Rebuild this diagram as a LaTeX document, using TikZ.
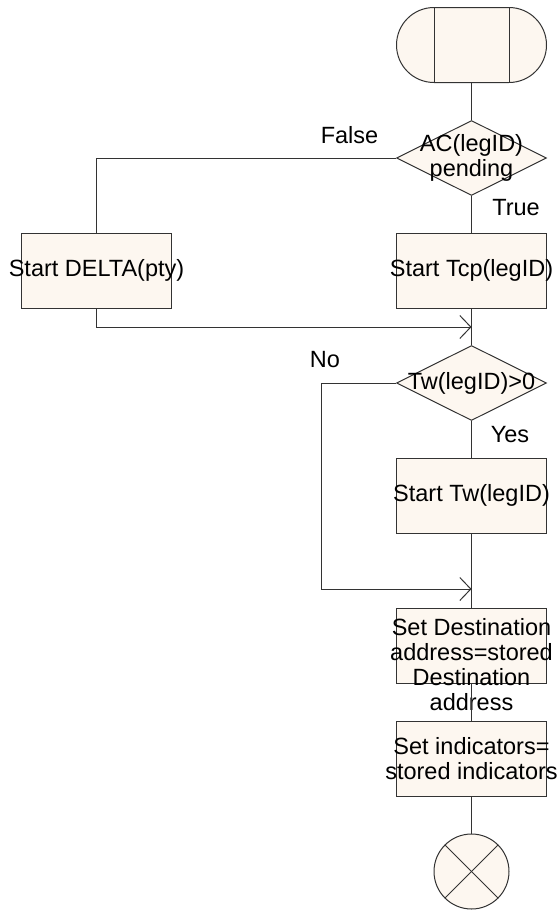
\documentclass[tikz,border=0pt]{standalone}
\usepackage{fontspec}
\setmainfont{Liberation Sans}
\usepackage{xcolor}
\usetikzlibrary{positioning, arrows.meta, shapes.geometric, shapes.misc}
\definecolor{boxfill}{RGB}{253,247,240}
\tikzset{every picture/.append style={line width=1pt}}

\begin{document}
\begin{tikzpicture}[x=1pt, y=-1pt,
    font=\fontsize{23.5}{25}\selectfont,
    proc/.style={draw=black!80, fill=boxfill, minimum width=150pt, minimum height=75pt, inner sep=0pt},
    decision/.style={diamond, draw=black!80, fill=boxfill, minimum width=150pt, minimum height=75pt, inner sep=0pt},
    term/.style={rounded rectangle, draw=black!80, fill=boxfill, minimum width=150pt, minimum height=75pt, inner sep=0pt},
    stopmark/.style={circle, draw=black!80, fill=boxfill, minimum size=75pt, inner sep=0pt},
    flow/.style={draw=black!80},
    arr/.style={flow, -{Straight Barb[length=11pt, width=23pt]}}]

    \useasboundingbox (0,0) rectangle (559,910);

    % =========================================================================
    % MAIN COLUMN
    % =========================================================================
    \node[term] (start) at (471.5, 45) {};
    \draw[flow] ([xshift=-37.5pt]start.north) -- ([xshift=-37.5pt]start.south);
    \draw[flow] ([xshift=37.5pt]start.north) -- ([xshift=37.5pt]start.south);

    \node[decision, label={[align=center]center:{AC(legID)\\pending}}] (acpend) at (471.5, 158) {};
    \node[proc, label=center:{Start Tcp(legID)}] (tcp) at (471.5, 270.5) {};
    \coordinate (join1) at (471.5, 327);

    \node[decision, label=center:{Tw(legID)>0}] (twpos) at (471.5, 383) {};
    \node[proc, label=center:{Start Tw(legID)}] (tw) at (471.5, 495.5) {};
    \coordinate (join2) at (471.5, 589);

    \node[proc, label={[align=center, yshift=-19.5pt]center:{Set Destination\\address=stored\\Destination\\address}}] (dest) at (471.5, 645.5) {};
    \node[proc, label={[align=center]center:{Set indicators=\\stored indicators}}] (ind) at (471.5, 759) {};

    \node[stopmark] (stop) at (471.5, 871.5) {};
    \draw[flow] (stop.north west) -- (stop.south east);
    \draw[flow] (stop.north east) -- (stop.south west);

    % =========================================================================
    % LEFT BRANCH
    % =========================================================================
    \node[proc, label=center:{Start DELTA(pty)}] (delta) at (96.5, 270.5) {};
    \coordinate (nocorner) at (321.5, 589);

    % Branch labels
    \node (lblfalse) at (349.5, 135) {False};
    \node (lbltrue) at (516, 208) {True};
    \node (lblno) at (325, 359.5) {No};
    \node (lblyes) at (510, 435) {Yes};

    % =========================================================================
    % CONNECTORS
    % =========================================================================
    \draw[flow] (start) -- (acpend);
    \draw[flow] (acpend) -- (tcp);
    \draw[flow] (acpend.west) -| (delta.north);
    \draw[arr] (delta.south) |- (join1);
    \draw[flow] (tcp) -- (twpos);
    \draw[flow] (twpos) -- (tw);
    \draw[arr] (twpos.west) -| (nocorner) -- (join2);
    \draw[flow] (tw) -- (dest);
    \draw[flow] (dest) -- (ind);
    \draw[flow] (ind) -- (stop);

\end{tikzpicture}
\end{document}
